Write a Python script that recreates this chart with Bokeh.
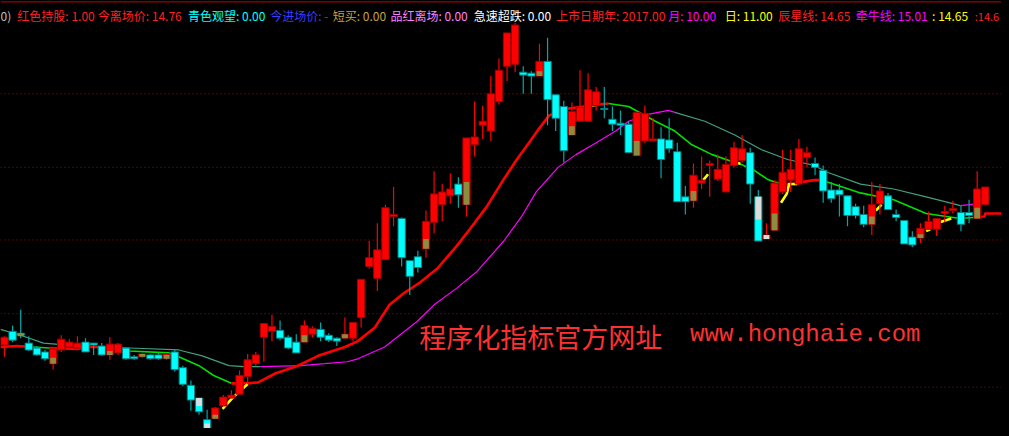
from bokeh.plotting import figure
from bokeh.models import Range1d, Span
from bokeh.core.properties import value
from bokeh.embed import file_html
from bokeh.resources import INLINE

# ---------------- data ----------------
opens = [7.45, 8.15, 8.05, 7.55, 7.3, 7.1, 6.5, 7.2, 7.35, 7.3,
         7.6, 7.55, 7.4, 6.95, 7.05, 7.3, 6.85, 6.85, 6.95, 6.95,
         6.75, 7.1, 6.3, 5.4, 4.75, 3.65, 3.7, 4.35, 4.75, 4.95,
         5.85, 6.5, 7.85, 8.15, 8.2, 7.85, 7.6, 7.6, 8.0, 8.25,
         7.95, 7.8, 7.8, 7.8, 8.85, 11.45, 10.85, 11.8, 14.0, 13.9,
         11.75, 11.95, 12.35, 13.7, 14.6, 15.05, 15.65, 14.6, 17.65, 18.65,
         18.35, 19.85, 21.65, 21.75, 21.35, 21.3, 21.15, 21.9, 20.2, 19.6,
         18.15, 18.85, 18.85, 19.65, 19.5, 18.95, 18.75, 18.7, 17.1, 17.85,
         17.85, 17.95, 17.9, 17.3, 15.0, 14.8, 15.7, 16.6, 15.9, 15.25,
         16.6, 16.85, 17.25, 15.0, 12.85, 13.3, 15.25, 15.85, 15.65, 17.0,
         16.7, 16.35, 15.35, 15.35, 15.05, 14.5, 14.1, 13.6, 14.65, 15.05,
         14.1, 13.8, 12.95, 12.9, 13.35, 13.35, 14.15, 14.3, 14.2, 14.2,
         13.9, 14.6]
closes = [7.85, 7.7, 7.95, 7.2, 6.95, 6.75, 7.25, 7.75, 7.6, 7.55,
          7.1, 7.45, 6.95, 7.5, 7.5, 6.75, 6.75, 7.0, 6.75, 6.75,
          7.0, 6.2, 5.45, 4.65, 4.05, 3.2, 4.25, 4.8, 4.9, 5.9,
          6.7, 6.95, 8.55, 8.4, 7.8, 7.3, 7.05, 8.45, 8.3, 7.85,
          7.7, 7.65, 8.0, 8.6, 10.8, 11.9, 12.3, 14.45, 14.1, 11.9,
          10.95, 11.4, 13.75, 15.15, 15.25, 15.4, 15.1, 18.0, 18.05, 18.85,
          20.25, 21.45, 23.35, 23.75, 21.2, 21.15, 21.9, 19.95, 19.0, 17.35,
          19.35, 19.55, 20.45, 20.35, 19.45, 18.7, 18.65, 17.25, 19.3, 19.25,
          17.95, 16.9, 17.45, 14.75, 14.75, 16.1, 15.85, 16.7, 16.4, 16.65,
          17.5, 17.45, 15.65, 12.75, 13.05, 15.7, 16.25, 16.4, 17.45, 17.25,
          16.5, 15.3, 14.9, 15.1, 14.05, 14.05, 13.6, 14.6, 15.3, 14.35,
          13.95, 12.6, 12.55, 13.4, 13.75, 13.9, 14.25, 14.4, 13.6, 14.05,
          15.4, 15.5]
highs = [7.9, 8.45, 9.25, 7.9, 7.4, 7.2, 7.3, 7.95, 7.75, 7.9,
         7.8, 7.55, 7.55, 7.85, 7.55, 7.35, 6.95, 7.05, 7.0, 7.05,
         7.05, 7.2, 6.4, 5.65, 4.75, 4.15, 4.3, 4.9, 5.15, 6.15,
         7.0, 7.1, 8.55, 9.0, 8.7, 7.95, 8.0, 8.7, 8.4, 8.6,
         8.05, 7.85, 8.85, 8.6, 10.8, 12.75, 13.65, 14.6, 15.5, 13.95,
         11.75, 12.25, 14.3, 16.3, 15.65, 16.2, 16.0, 18.0, 19.85, 19.65,
         21.15, 22.05, 23.35, 23.85, 21.65, 21.4, 22.8, 23.1, 20.2, 19.9,
         19.8, 21.45, 21.3, 20.6, 20.6, 19.6, 19.4, 18.85, 19.35, 19.65,
         19.0, 18.55, 19.0, 17.75, 15.55, 16.7, 17.05, 16.85, 17.15, 17.05,
         17.8, 18.15, 17.5, 15.35, 13.65, 15.85, 17.4, 17.4, 17.95, 17.55,
         17.0, 16.6, 15.75, 15.65, 15.05, 14.65, 14.55, 15.75, 15.65, 15.2,
         14.35, 13.8, 13.25, 13.65, 14.25, 13.9, 14.55, 14.8, 14.55, 14.85,
         16.3, 15.5]
lows = [6.85, 7.6, 7.8, 7.15, 6.9, 6.65, 6.2, 7.1, 7.3, 7.25,
        7.1, 6.95, 6.9, 6.7, 6.95, 6.7, 6.7, 6.8, 6.7, 6.7,
        6.7, 6.1, 5.35, 4.1, 3.9, 3.2, 3.7, 4.35, 4.75, 4.95,
        5.5, 6.4, 6.6, 7.65, 7.7, 7.25, 7.05, 7.6, 7.85, 7.65,
        7.6, 7.4, 7.8, 7.65, 8.35, 11.35, 10.2, 11.8, 13.5, 11.45,
        10.0, 11.15, 11.9, 13.15, 13.75, 14.65, 14.45, 14.0, 17.05, 17.95,
        17.85, 19.7, 20.9, 21.35, 20.25, 20.25, 21.15, 18.65, 18.35, 16.75,
        18.15, 18.85, 18.85, 19.4, 19.0, 18.35, 18.15, 17.25, 17.1, 17.75,
        17.85, 15.95, 17.25, 14.75, 14.1, 14.45, 15.4, 15.0, 15.8, 15.25,
        16.5, 16.75, 14.65, 12.75, 12.85, 13.3, 15.15, 15.25, 15.65, 16.5,
        16.1, 14.7, 14.7, 14.0, 13.5, 13.9, 13.45, 13.05, 14.1, 14.35,
        13.75, 12.6, 12.45, 12.65, 13.35, 13.0, 13.7, 14.15, 13.25, 13.65,
        13.9, 14.6]

# olive marker sticks (短买) and white sticks (急速超跌)
olive_idx = [2, 6, 13, 17, 20, 26, 37, 42, 52, 57, 66, 70, 78, 85, 95, 107, 113, 120]
olive_top = [8.05, 6.8, 7.15, 7.0, 6.95, 3.9, 7.95, 8.0, 12.85, 15.75, 21.4, 18.6, 17.85, 15.3, 14.15, 14.0, 13.1, 14.45]
olive_bot = [7.9, 6.5, 6.95, 6.85, 6.75, 3.7, 7.6, 7.8, 12.35, 14.6, 21.15, 18.15, 17.1, 14.8, 13.3, 13.6, 12.9, 13.9]
white_idx = [24, 25, 93, 94]
white_top = [4.75, 3.45, 15.0, 13.05]
white_bot = [4.35, 3.2, 13.85, 12.85]

# 辰星线 (thick) segments and their state
ma1_x = [[-0.5, 1.5, 3.5],
         [3.5, 5.5],
         [5.5, 9.0, 10.3, 11.5, 14.0],
         [14.0, 15.4, 20.3, 21.5, 24.0, 25.8, 28.0],
         [28.0, 30.0, 31.3, 33.4, 36.2, 38.7, 42.0, 43.6, 45.7, 47.5, 49.3, 51.3, 53.4, 55.8, 57.4, 59.5,
          61.6, 63.2, 64.0, 66.0, 67.2, 69.6, 72.5],
         [73.3, 74.5],
         [74.5, 77.0, 80.3, 82.7, 84.8, 87.3, 90.1, 90.9, 92.5, 94.1, 95.0, 96.2],
         [96.2, 97.8, 98.3, 99.9, 100.5],
         [100.5, 101.5, 105.6, 109.7, 113.7, 117.9, 119.5],
         [119.5, 120.9, 121.0, 123.0]]
ma1_y = [[7.35, 7.4, 7.35],
         [7.35, 7.3],
         [7.3, 7.25, 7.35, 7.35, 7.25],
         [7.25, 7.15, 7.05, 6.85, 6.4, 5.9, 5.5],
         [5.5, 5.5, 5.55, 6.0, 6.4, 6.9, 7.35, 7.65, 8.35, 9.5, 10.1, 10.65, 11.35, 12.5, 13.35, 14.5,
          15.9, 16.9, 17.35, 18.5, 19.15, 19.5, 19.65],
         [19.7, 19.75],
         [19.75, 19.6, 18.85, 18.35, 17.65, 17.15, 16.75, 16.65, 16.35, 15.9, 15.75, 15.65],
         [15.65, 15.65, 15.75, 15.85, 15.85],
         [15.85, 15.75, 15.2, 14.85, 14.15, 13.9, 13.95],
         [13.95, 14.0, 14.15, 14.15]]
ma1_state = ["up", "down", "up", "down", "up", "up", "down", "up", "down", "up"]

# short rising pieces (yellow)
yl_x = [[26.9, 28.0, 28.5, 29.7, 30.0], [72.5, 73.3], [86.2, 86.8], [90.2, 90.8],
        [95.8, 96.5, 96.8, 97.8], [107.5, 108.2], [113.7, 114.2], [115.4, 116.8]]
yl_y = [[4.2, 4.7, 4.9, 5.35, 5.45], [19.65, 19.7], [15.85, 16.15], [16.72, 16.7],
        [14.7, 15.15, 15.65, 15.65], [14.3, 14.6], [13.25, 13.35], [13.7, 13.9]]

# 牵牛线 (thin) segments and their state
ma2_x = [[-0.5, 2.0, 4.8, 9.3, 15.4, 21.5, 24.4, 27.7, 29.5, 31.6],
         [31.6, 36.6, 39.5, 42.3, 43.6, 46.9, 50.9, 53.0, 55.8, 58.3, 61.6, 63.8, 65.6, 68.3, 70.5, 73.0,
          75.4, 77.0, 79.4, 81.9, 82.7],
         [82.7, 86.4, 90.1, 93.4, 96.6, 99.9, 101.5, 105.6, 109.7, 113.7, 117.0, 117.9],
         [117.9, 119.1, 121.1]]
ma2_y = [[8.25, 7.95, 7.55, 7.4, 7.3, 7.2, 6.9, 6.4, 6.35, 6.35],
         [6.35, 6.4, 6.5, 6.6, 6.75, 7.35, 8.65, 9.5, 10.35, 11.2, 12.75, 14.0, 15.25, 16.5, 17.15, 17.75,
          18.35, 18.85, 19.2, 19.4, 19.3],
         [19.3, 18.85, 18.15, 17.4, 16.9, 16.6, 16.25, 15.65, 15.4, 15.0, 14.65, 14.55],
         [14.55, 14.6, 14.75]]
ma2_state = ["down", "up", "down", "up"]

grid_levels = [20.25, 16.5, 12.8, 9.05, 5.3]

header_x = [-0.49, 1.59, 11.51, 22.64, 32.8, 40.51, 47.61, 57.89, 68.05, 81.88, 88.86, 95.47, 105.02, 114.44, 119.7]
header_text = ["0)", "红色持股: 1.00", "今离场价: 14.76", "青色观望: 0.00", "今进场价: -",
               "短买: 0.00", "品红离场: 0.00", "急速超跌: 0.00", "上市日期年: 2017.00",
               "月: 10.00", "日: 11.00", "辰星线: 14.65", "牵牛线: 15.01", ": 14.65", ":14.6"]
header_color = ["#C0C0C0", "#FF2020", "#FF2020", "#00FFFF", "#3C3CFF",
                "#C8A040", "#FF80FF", "#FFFFFF", "#FF2020",
                "#FF00FF", "#FFFF00", "#FF2020", "#FF00FF", "#FFFF00", "#FF2020"]
header_size = ["12px"] * 14 + ["11px"]

# ---------------- figure ----------------
p = figure(width=1001, height=428, x_range=Range1d(-0.49, 123.0), y_range=Range1d(3.2, 25.0),
           output_backend="svg", toolbar_location=None,
           x_axis_location=None, y_axis_location=None,
           background_fill_color="black", border_fill_color="black",
           min_border=0, outline_line_color=None)
p.grid.visible = False

for lv in grid_levels:
    p.add_layout(Span(location=lv, dimension="width", line_color="#B00000",
                      line_dash="1 3", line_width=1, level="underlay"))
p.add_layout(Span(location=24.93, dimension="width", line_color="#C00000", line_width=1))

# lines behind candles
ma2_colors = {"down": "#40A080", "up": "#FF00FF"}
for xs, ys, st in zip(ma2_x, ma2_y, ma2_state):
    p.line(xs, ys, line_color=ma2_colors[st], line_width=1.2)

ma1_colors = {"down": "#00E000", "up": "#FF0000"}
ma1_widths = {"down": 1.6, "up": 2.6}
for xs, ys, st in zip(ma1_x, ma1_y, ma1_state):
    p.line(xs, ys, line_color=ma1_colors[st], line_width=ma1_widths[st], line_join="round")
for xs, ys in zip(yl_x, yl_y):
    p.line(xs, ys, line_color="#FFFF00", line_width=2.6, line_join="round")

# candles
idx = list(range(len(opens)))
up = [c >= o for o, c in zip(opens, closes)]
wick_col = ["#FF0000" if u else "#00A8A8" for u in up]
body_fill = ["#FF0000" if u else "#00FFFF" for u in up]
body_line = ["#A00000" if u else "#008080" for u in up]
tops = [max(o, c) for o, c in zip(opens, closes)]
bots = [min(o, c) for o, c in zip(opens, closes)]

p.segment(x0=idx, y0=lows, x1=idx, y1=highs, line_color=wick_col, line_width=1.2)
p.vbar(x=idx, top=tops, bottom=bots, width=0.9, fill_color=body_fill,
       line_color=body_line, line_width=1)
p.vbar(x=olive_idx, top=olive_top, bottom=olive_bot, width=0.7,
       fill_color="#8C8C40", line_color=None)
p.vbar(x=white_idx, top=white_top, bottom=white_bot, width=0.7,
       fill_color="#DCDCDC", line_color=None)

# header
p.text(x=header_x, y=[24.22] * len(header_x), text=header_text, text_color=header_color,
       text_font=value("Noto Sans CJK SC"), text_font_size=header_size,
       text_baseline="alphabetic", text_align="left")

# watermark
p.text(x=[51.16], y=[7.9], text=["程序化指标官方网址"], text_color="#FF3030",
       text_font=value("Noto Sans CJK SC"), text_font_size="27px",
       text_baseline="alphabetic", text_align="left")
p.text(x=[84.58], y=[8.0], text=["www.honghaie.com"], text_color="#FF3030",
       text_font=value("Liberation Mono"), text_font_size="24px",
       text_baseline="alphabetic", text_align="left")

html = file_html(p, INLINE)
html = html.replace("<head>", "<head><style>html,body{background:#000000;overflow:hidden;}</style>", 1)
open("out.html", "w").write(html)
